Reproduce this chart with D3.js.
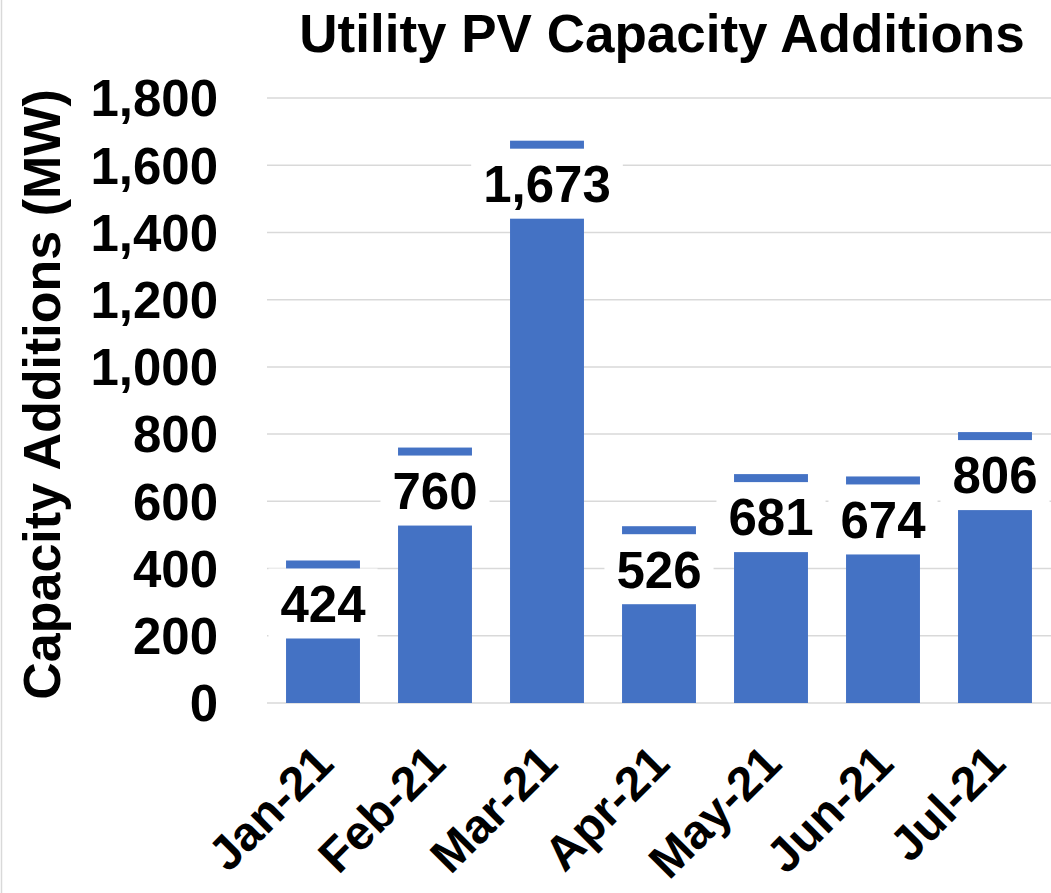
<!DOCTYPE html>
<html>
<head>
<meta charset="utf-8">
<script src="https://cdn.jsdelivr.net/npm/d3@7"></script>
<style>
  body { margin: 0; background: #fff; }
  svg { font-family: "Liberation Sans", Arial, sans-serif; font-weight: bold; }
</style>
</head>
<body>
<div id="chart"></div>
<script>
// data
const months = ['Jan-21', 'Feb-21', 'Mar-21', 'Apr-21', 'May-21', 'Jun-21', 'Jul-21'];
const capacityMW = [424, 760, 1673, 526, 681, 674, 806];
const yTicks = [0, 200, 400, 600, 800, 1000, 1200, 1400, 1600, 1800];

const width = 1051, height = 893;
const margin = {top: 98, right: 0, bottom: 190, left: 267};

const svg = d3.select('#chart').append('svg')
  .attr('width', width)
  .attr('height', height);

// left border of chart area
svg.append('line')
  .attr('x1', 1.5).attr('x2', 1.5)
  .attr('y1', 0).attr('y2', height)
  .attr('stroke', '#d9d9d9')
  .attr('stroke-width', 1.5);

const x = d3.scaleBand()
  .domain(months)
  .range([margin.left, width - margin.right])
  .paddingInner(0.34)
  .paddingOuter(0.17);

const y = d3.scaleLinear()
  .domain([0, 1800])
  .range([height - margin.bottom, margin.top]);

// gridlines
svg.append('g')
  .selectAll('line')
  .data(yTicks)
  .enter()
  .append('line')
  .attr('x1', margin.left)
  .attr('x2', width)
  .attr('y1', d => y(d))
  .attr('y2', d => y(d))
  .attr('stroke', '#d9d9d9')
  .attr('stroke-width', 1.5);

// y tick labels
svg.append('g')
  .selectAll('text')
  .data(yTicks)
  .enter()
  .append('text')
  .attr('x', 218)
  .attr('y', d => y(d))
  .attr('dy', '0.36em')
  .attr('text-anchor', 'end')
  .style('font-size', '51px')
  .text(d => d3.format(',')(d));

// bars
svg.append('g')
  .selectAll('rect')
  .data(capacityMW)
  .enter()
  .append('rect')
  .attr('x', (d, i) => x(months[i]))
  .attr('width', x.bandwidth())
  .attr('y', d => y(d))
  .attr('height', d => y(0) - y(d))
  .attr('fill', '#4472C4');

// value labels with white boxes
const labels = svg.append('g')
  .selectAll('g')
  .data(capacityMW)
  .enter()
  .append('g')
  .attr('transform', (d, i) => `translate(${x(months[i]) + x.bandwidth() / 2},${y(d) + 8})`);

labels.append('text')
  .attr('y', 35)
  .attr('dy', '0.36em')
  .attr('text-anchor', 'middle')
  .style('font-size', '51px')
  .text(d => d3.format(',')(d));

labels.each(function() {
  const g = d3.select(this);
  const w = g.select('text').node().getComputedTextLength() + 24;
  g.insert('rect', 'text')
    .attr('x', -w / 2)
    .attr('y', 0)
    .attr('width', w)
    .attr('height', 70)
    .attr('fill', '#fff');
});

// x tick labels
svg.append('g')
  .selectAll('text')
  .data(months)
  .enter()
  .append('text')
  .attr('transform', d => `translate(${x(d) + x.bandwidth() / 2 + 13},${y(0) + 63}) rotate(-45)`)
  .attr('text-anchor', 'end')
  .style('font-size', '48px')
  .text(d => d);

// title
svg.append('text')
  .attr('x', 662)
  .attr('y', 52)
  .attr('text-anchor', 'middle')
  .style('font-size', '53px')
  .text('Utility PV Capacity Additions');

// y axis title
svg.append('text')
  .attr('transform', `translate(60,${(y(0) + y(1800)) / 2 - 6}) rotate(-90)`)
  .attr('text-anchor', 'middle')
  .style('font-size', '52px')
  .text('Capacity Additions (MW)');
</script>
</body>
</html>
